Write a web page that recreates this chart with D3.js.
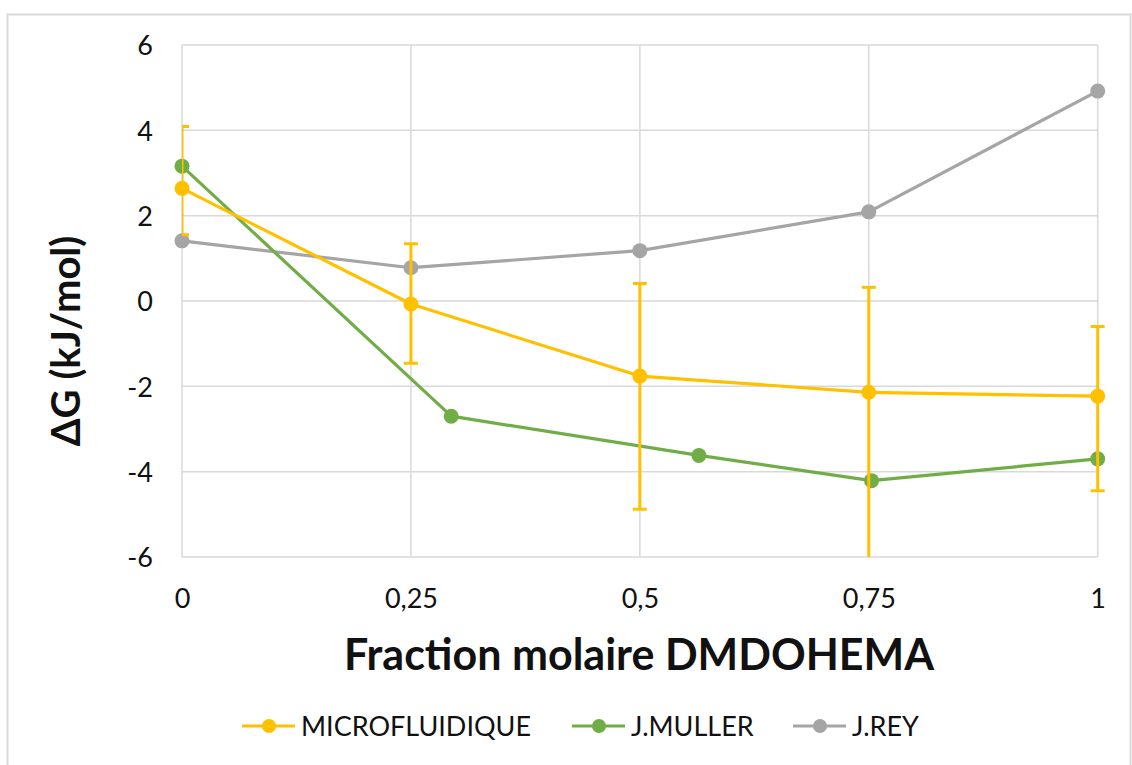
<!DOCTYPE html>
<html>
<head>
<meta charset="utf-8">
<script src="https://cdn.jsdelivr.net/npm/d3@7"></script>
<style>
  body { margin: 0; background: #fff; }
  text { font-family: Lato, "Open Sans", sans-serif; fill: #111; }
</style>
</head>
<body>
<div id="chart"></div>
<script>
// values
var seriesNames = ["MICROFLUIDIQUE", "J.MULLER", "J.REY"];
var seriesColors = ["#FFC000", "#70AD47", "#A5A5A5"];

var microX = [0, 0.25, 0.5, 0.75, 1];
var microY = [2.64, -0.07, -1.76, -2.14, -2.23];
var microErrPlus = [1.45, 1.41, 2.17, 2.46, 1.63];
var microErrMinus = [1.09, 1.39, 3.12, 3.9, 2.22];

var mullerX = [0, 0.294, 0.5645, 0.753, 1];
var mullerY = [3.16, -2.70, -3.62, -4.21, -3.70];

var reyX = [0, 0.25, 0.5, 0.75, 1];
var reyY = [1.41, 0.78, 1.18, 2.09, 4.92];

var xTicks = [0, 0.25, 0.5, 0.75, 1];
var yTicks = [-6, -4, -2, 0, 2, 4, 6];

var W = 1132, H = 765;
var margin = {top: 45, right: 34, bottom: 208, left: 182};

var svg = d3.select("#chart").append("svg")
    .attr("width", W)
    .attr("height", H);

//outer frame
svg.append("rect")
    .attr("x", 7.5).attr("y", 14.5)
    .attr("width", W - 9).attr("height", H - 10)
    .attr("fill", "none")
    .attr("stroke", "#d9d9d9")
    .attr("stroke-width", 2);

var x = d3.scaleLinear().domain([0, 1]).range([margin.left, W - margin.right - 0.3]);
var y = d3.scaleLinear().domain([-6, 6]).range([557, margin.top]);

//comma decimals, plain hyphen for minus
var fmt = function(d){ return String(d).replace(".", ","); };

//grid
var grid = svg.append("g");
grid.selectAll(".hg").data(yTicks).join("line")
    .attr("x1", x(0)).attr("x2", x(1))
    .attr("y1", function(d){ return y(d); }).attr("y2", function(d){ return y(d); })
    .attr("stroke", "#d9d9d9").attr("stroke-width", 1.5);
grid.selectAll(".vg").data(xTicks).join("line")
    .attr("x1", function(d){ return x(d); }).attr("x2", function(d){ return x(d); })
    .attr("y1", y(6)).attr("y2", y(-6))
    .attr("stroke", "#d9d9d9").attr("stroke-width", 1.5);

//axes (labels only)
var yAxis = svg.append("g")
    .attr("transform", "translate(" + (x(0) - 29) + ",0)")
    .call(d3.axisLeft(y).tickValues(yTicks).tickFormat(fmt).tickSize(0).tickPadding(0));
yAxis.select(".domain").remove();
yAxis.selectAll("text").attr("font-size", 27).attr("dy", "0.36em");

var xAxis = svg.append("g")
    .call(d3.axisBottom(x).tickValues(xTicks).tickFormat(fmt).tickSize(0).tickPadding(0));
xAxis.select(".domain").remove();
xAxis.selectAll("text").attr("font-size", 27).attr("y", 608).attr("dy", 0);

//axis titles
svg.append("text")
    .attr("x", 639)
    .attr("y", 670)
    .attr("text-anchor", "middle")
    .attr("font-size", 43)
    .attr("font-weight", "bold")
    .text("Fraction molaire DMDOHEMA");

svg.append("text")
    .attr("transform", "translate(80,341) rotate(-90)")
    .attr("text-anchor", "middle")
    .attr("font-size", 40)
    .attr("font-weight", "bold")
    .text("\u0394G (kJ/mol)");

//clip for error bars
svg.append("defs").append("clipPath").attr("id", "plotclip")
    .append("rect")
    .attr("x", x(0)).attr("y", y(6))
    .attr("width", x(1) - x(0) + 20).attr("height", y(-6) - y(6));

var series = [
    {name: seriesNames[0], color: seriesColors[0], xs: microX, ys: microY},
    {name: seriesNames[1], color: seriesColors[1], xs: mullerX, ys: mullerY},
    {name: seriesNames[2], color: seriesColors[2], xs: reyX, ys: reyY}
];

var line = d3.line()
    .x(function(d){ return x(d[0]); })
    .y(function(d){ return y(d[1]); });

//draw in reverse so yellow sits on top
series.slice().reverse().forEach(function(s){
    var pts = s.xs.map(function(v, i){ return [v, s.ys[i]]; });
    var g = svg.append("g");

    if (s.name === "MICROFLUIDIQUE") {
        var eb = g.append("g").attr("clip-path", "url(#plotclip)");
        var errs = pts.map(function(p, i){ return {x: p[0], hi: p[1] + microErrPlus[i], lo: p[1] - microErrMinus[i]}; });
        eb.selectAll(".ebv").data(errs).join("line")
            .attr("x1", function(d){ return x(d.x); }).attr("x2", function(d){ return x(d.x); })
            .attr("y1", function(d){ return y(d.hi); }).attr("y2", function(d){ return y(d.lo); })
            .attr("stroke", s.color).attr("stroke-width", 3);
        ["hi", "lo"].forEach(function(k){
            eb.selectAll(".cap" + k).data(errs).join("line")
                .attr("x1", function(d){ return x(d.x) - 7; }).attr("x2", function(d){ return x(d.x) + 7; })
                .attr("y1", function(d){ return y(d[k]); }).attr("y2", function(d){ return y(d[k]); })
                .attr("stroke", s.color).attr("stroke-width", 3);
        });
    }

    g.append("path")
        .datum(pts)
        .attr("d", line)
        .attr("fill", "none")
        .attr("stroke", s.color)
        .attr("stroke-width", 3.2)
        .attr("stroke-linejoin", "round");

    g.selectAll("circle").data(pts).join("circle")
        .attr("cx", function(d){ return x(d[0]); })
        .attr("cy", function(d){ return y(d[1]); })
        .attr("r", 7.5)
        .attr("fill", s.color);
});

//legend
var legendX = [242, 572, 793];
var legend = svg.append("g").attr("transform", "translate(0,726)");
series.forEach(function(s, i){
    var lg = legend.append("g").attr("transform", "translate(" + legendX[i] + ",0)");
    lg.append("line").attr("x1", 0).attr("x2", 53).attr("y1", 0).attr("y2", 0)
        .attr("stroke", s.color).attr("stroke-width", 3.2);
    lg.append("circle").attr("cx", 27).attr("cy", 0).attr("r", 7).attr("fill", s.color);
    lg.append("text").attr("x", 59).attr("y", 0).attr("dy", "0.36em")
        .attr("font-size", 27).text(s.name);
});
</script>
</body>
</html>
